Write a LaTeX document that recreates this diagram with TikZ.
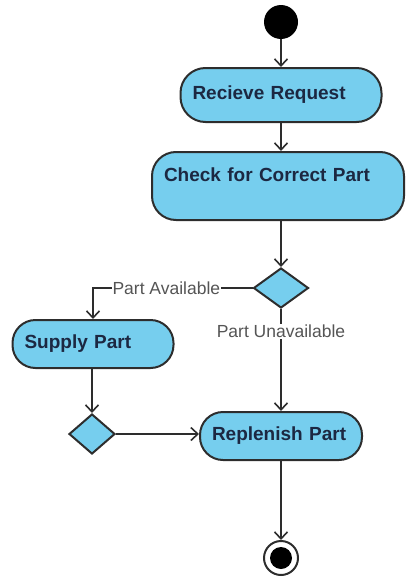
\documentclass[tikz,border=0pt]{standalone}
\usepackage{fontspec}
\setmainfont{Liberation Sans}
\usetikzlibrary{shapes.geometric,arrows.meta}
\definecolor{actfill}{RGB}{118,206,238}
\definecolor{actline}{RGB}{45,45,45}
\definecolor{acttext}{RGB}{28,40,66}
\definecolor{guardtext}{RGB}{85,85,85}

\begin{document}
\begin{tikzpicture}[x=1pt,y=-1pt,
 activity/.style={draw=actline,line width=2pt,fill=actfill,text=acttext,
  font=\fontsize{19}{23}\selectfont\bfseries,align=left,inner xsep=12pt},
 decision/.style={diamond,draw=actline,line width=2pt,fill=actfill,inner sep=0pt},
 flow/.style={draw=actline,line width=2pt,-{Straight Barb[length=7pt,width=13pt,line width=1.6pt]}},
 guard/.style={fill=white,text=guardtext,inner sep=1pt,font=\fontsize{17.5}{20}\selectfont}]
 \useasboundingbox
 (0,0) rectangle (406,581)
 ;
 % start and end
 \node[circle,fill=black,minimum size=34pt,inner sep=0pt] (start) at (281,22) {};
 \node[circle,draw=actline,line width=2pt,fill=white,minimum size=34pt,inner sep=0pt] (stop) at (281,558) {};
 \node[circle,fill=black,minimum size=22pt,inner sep=0pt] (stopdot) at (stop) {};
 % activities
 \node[activity,rounded corners=25pt,minimum width=201pt,minimum height=54pt,text width=177pt]
  (recv) at (281,95) {Recieve Request};
 \node[activity,rounded corners=24pt,minimum width=252pt,minimum height=68pt,text width=228pt]
  (check) at (278,186) {Check for Correct Part\\ \mbox{}};
 \node[activity,rounded corners=23pt,minimum width=161pt,minimum height=48pt,text width=137pt]
  (supply) at (93,344) {Supply Part};
 \node[activity,rounded corners=23pt,minimum width=162pt,minimum height=48pt,text width=138pt]
  (repl) at (281,436) {Replenish Part};
 % decisions
 \node[decision,minimum width=55pt,minimum height=40pt] (avail) at (281,288) {};
 \node[decision,minimum width=46pt,minimum height=40pt] (merge) at (92,434) {};
 % flows
 \draw[flow] (start) -- (recv);
 \draw[flow] (recv.south -| avail) -- (check.north -| avail);
 \draw[flow] (check.south -| avail) -- (avail.north);
 \draw[flow]
 (avail.west) -| node[guard,pos=0.27] {Part Available} (supply.north)
 ;
 \draw[flow]
 (avail.south) -- node[guard,pos=0.22] {Part Unavailable} (repl.north -| avail)
 ;
 \draw[flow] (supply.south -| merge) -- (merge.north);
 \draw[flow] (merge.east) -- (merge.east -| repl.west);
 \draw[flow] (repl.south -| avail) -- (stop.north);
\end{tikzpicture}
\end{document}
